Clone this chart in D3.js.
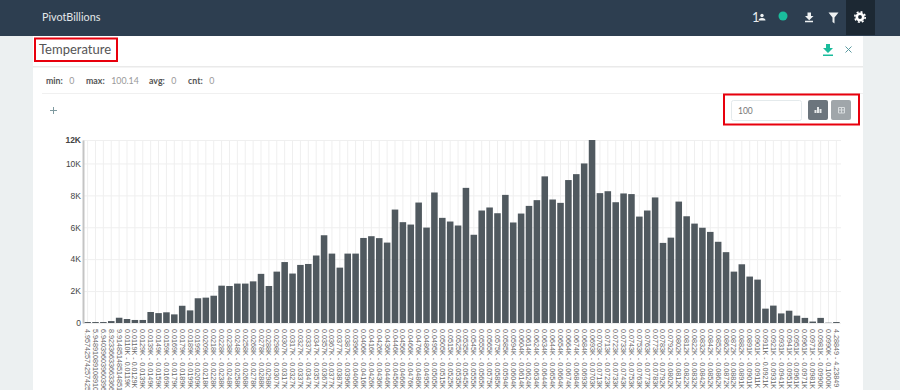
<!DOCTYPE html>
<html>
<head>
<meta charset="utf-8">
<title>Temperature</title>
<script src="https://cdn.jsdelivr.net/npm/d3@7"></script>
<style>
  html, body { margin: 0; padding: 0; background: #ecf0f1; overflow: hidden; }
  svg { display: block; font-family: Lato, sans-serif; }
  .y-axis text { font-family: "Liberation Sans", sans-serif; font-size: 8.5px; fill: #444; }
  .x-axis text { font-family: "Liberation Sans", sans-serif; font-size: 7.2px; fill: #666; }
  .grid line { stroke: #efefef; stroke-width: 1; }
</style>
</head>
<body>
<svg id="chart" width="900" height="390"></svg>
<script>
const rawLabels = [
  "4.95742574257425 - 5.94891089108910",
  "5.94891089108910 - 6.94039603960396",
  "6.94039603960396 - 7.93188118811881",
  "8.92336633663366 - 9.91485148514851",
  "9.91485148514851 - 0.0110K"
];
const binStarts = [
  "0.0110", "0.0119", "0.0129", "0.0139", "0.0149", "0.0159", "0.0169", "0.0179", "0.0189", "0.0199",
  "0.0209", "0.0218", "0.0228", "0.0238", "0.0248", "0.0258", "0.0268", "0.0278", "0.0288", "0.0298",
  "0.0307", "0.0317", "0.0327", "0.0337", "0.0347", "0.0357", "0.0367", "0.0377", "0.0387", "0.0396",
  "0.0406", "0.0416", "0.0426", "0.0436", "0.0446", "0.0456", "0.0466", "0.0476", "0.0486", "0.0495",
  "0.0505", "0.0515", "0.0525", "0.0535", "0.0545", "0.0555", "0.0565", "0.0575", "0.0585", "0.0594",
  "0.0604", "0.0614", "0.0624", "0.0634", "0.0644", "0.0654", "0.0664", "0.0674", "0.0684", "0.0693",
  "0.0703", "0.0713", "0.0723", "0.0733", "0.0743", "0.0753", "0.0763", "0.0773", "0.0783", "0.0792",
  "0.0802", "0.0812", "0.0822", "0.0832", "0.0842", "0.0852", "0.0862", "0.0872", "0.0882", "0.0891",
  "0.0901", "0.0911", "0.0921", "0.0931", "0.0941", "0.0951", "0.0961", "0.0971", "0.0981", "0.0990",
  "0.1000"
];
const lastLabel = "4.28849 - 4.23849";

const counts = [
  60, 60, 60, 120, 330, 250, 190, 190, 690, 620, 670, 540, 1080, 790, 1550, 1590,
  1710, 2340, 2320, 2470, 2470, 2610, 3080, 2320, 3220, 3820, 3100, 3640, 3700, 4230, 5500, 4350,
  3470, 4350, 4350, 5330, 5440, 5320, 5040, 7110, 6320, 6170, 7550, 5980, 8180, 6590, 6360, 6110,
  8470, 5530, 7050, 7240, 6880, 8030, 6300, 6860, 7340, 7700, 9190, 7740, 7530, 8960, 9330, 10000,
  11470, 8140, 8260, 7570, 8120, 8080, 6670, 7050, 7870, 5020, 5350, 7610, 6690, 6230, 5970, 5710,
  5090, 4440, 3220, 3680, 2910, 2720, 900, 1090, 600, 770, 460, 320, 90, 320, 20, 60
];
// the top tick sits on the tallest bar and the chart rounds its label up to 12K
const yMax = 11470;
const yTicks = [0, 2000, 4000, 6000, 8000, 10000, yMax];
const yTickLabels = ["0", "2K", "4K", "6K", "8K", "10K", "12K"];
const stats = [["min", "0"], ["max", "100.14"], ["avg", "0"], ["cnt", "0"]];
const statX = [46, 86, 149, 188];

const binLabels = binStarts.slice(0, -1).map((d, i) => `${d}K - ${binStarts[i + 1]}K`);
const categories = [...rawLabels, ...binLabels, lastLabel];
const slots = d3.range(counts.length);

const svg = d3.select("#chart");
const page = svg.append("g");

// navbar
page.append("rect").attr("width", 900).attr("height", 36).attr("fill", "#2d3e50");
page.append("rect").attr("x", 846).attr("width", 29).attr("height", 35).attr("fill", "#1c2833");
page.append("text").attr("x", 42).attr("y", 21).attr("font-size", 10.8).attr("fill", "#e4e8ea").text("PivotBillions");
page.append("text").attr("x", 752).attr("y", 21.5).attr("font-size", 13).attr("fill", "#e8ecee").text("1");

const navIcons = page.append("g").attr("fill", "#eef1f2");
navIcons.append("circle").attr("cx", 762).attr("cy", 15.5).attr("r", 1.7);
navIcons.append("path").attr("d", "M758.500 20.500q0-2.500 3.500-2.500t3.500 2.500z");
page.append("circle").attr("cx", 783).attr("cy", 16).attr("r", 4.5).attr("fill", "#1abc9c");
navIcons.append("path").attr("d", "M807.500 12.500h3.500v3.500h2.500l-4.300 4.300-4.200-4.300h2.500z M805 20.800h8v1.500h-8z");
navIcons.append("path").attr("d", "M828.500 12.500h10l-4 5v6l-2-1.500v-4.500z");
navIcons.append("circle").attr("cx", 860).attr("cy", 17).attr("r", 3.2).attr("fill", "none").attr("stroke", "#fff").attr("stroke-width", 2.6);
navIcons.append("circle").attr("cx", 860).attr("cy", 17).attr("r", 5.2).attr("fill", "none").attr("stroke", "#fff").attr("stroke-width", 1.6).attr("stroke-dasharray", "2 2.080");

// panel
page.append("rect").attr("x", 33).attr("y", 36).attr("width", 830).attr("height", 354).attr("fill", "#fff");
page.append("rect").attr("x", 33).attr("y", 66).attr("width", 830).attr("height", 1.500).attr("fill", "#eaeaea");
page.append("rect").attr("x", 42).attr("y", 93).attr("width", 821).attr("height", 1).attr("fill", "#f0f0f0");

page.append("text").attr("x", 39).attr("y", 54).attr("font-size", 13).attr("fill", "#555").text("Temperature");
page.append("rect").attr("x", 35).attr("y", 38.500).attr("width", 82).attr("height", 22.500)
  .attr("fill", "none").attr("stroke", "#e8000d").attr("stroke-width", 2);

page.append("path").attr("fill", "#1abc9c").attr("d", "M826 44h4v4h3l-5 5-5-5h3z M823 54.500h10v1.500h-10z");
page.append("path").attr("stroke", "#5b9aa0").attr("stroke-width", 1).attr("fill", "none").attr("d", "M845.500 46.500l6 6m0-6l-6 6");

stats.forEach(([name, val], i) => {
  const t = page.append("text").attr("x", statX[i]).attr("y", 84).attr("font-size", 8.800).attr("fill", "#666");
  t.append("tspan").attr("font-weight", 700).attr("fill", "#555").text(`${name}:`);
  t.append("tspan").attr("dx", 6.500).attr("fill", "#999").text(val);
});
page.append("path").attr("stroke", "#7f9aa0").attr("stroke-width", 1).attr("d", "M50 110.500h7M53.500 107v7");

// size box and chart/table buttons
page.append("rect").attr("x", 724).attr("y", 94.500).attr("width", 135).attr("height", 30)
  .attr("fill", "none").attr("stroke", "#e8000d").attr("stroke-width", 2);
page.append("rect").attr("x", 731.500).attr("y", 100.500).attr("width", 70).attr("height", 20).attr("rx", 2)
  .attr("fill", "#fff").attr("stroke", "#e4eaec");
page.append("text").attr("x", 738).attr("y", 113.500).attr("font-size", 8.500).attr("fill", "#777").text("100");
page.append("rect").attr("x", 808).attr("y", 100).attr("width", 20).attr("height", 20).attr("rx", 2).attr("fill", "#6c757d");
page.append("rect").attr("x", 831).attr("y", 100).attr("width", 20).attr("height", 20).attr("rx", 2).attr("fill", "#a0a6aa");
page.append("path").attr("fill", "#e6e9ea").attr("d", "M814.500 113v-3h2v3z M817 113v-6h2v6z M819.500 113v-4h2v4z");
page.append("path").attr("fill", "none").attr("stroke", "#d8dcde").attr("d", "M838.500 107.500h6v5.500h-6z M838.500 110h6 M841.500 107.500v5.500");

// chart
const margin = { top: 140, left: 83 };
const chartWidth = 758;
const chartHeight = 183;
const chart = svg.append("g").attr("transform", `translate(${margin.left},${margin.top})`);

const x = d3.scaleBand().domain(slots).range([0, chartWidth]).padding(0.17);
const y = d3.scaleLinear().domain([0, yMax]).range([chartHeight, 0]);

chart.append("g")
  .attr("class", "grid")
  .call(d3.axisLeft(y).tickValues(yTicks).tickSize(-chartWidth).tickFormat(""))
  .call((g) => g.select(".domain").remove());

const xAxisG = chart.append("g")
  .attr("class", "x-axis grid")
  .attr("transform", `translate(0,${chartHeight})`)
  .call(d3.axisBottom(x).tickSize(-chartHeight).tickFormat((i) => categories[i]));
xAxisG.select(".domain").remove();
xAxisG.selectAll(".tick text")
  .attr("transform", "rotate(90)")
  .attr("text-anchor", "start")
  .attr("dominant-baseline", "central")
  .attr("x", 6)
  .attr("y", 0)
  .attr("dy", 0);

chart.append("g")
  .selectAll("rect")
  .data(counts)
  .join("rect")
  .attr("x", (d, i) => x(i))
  .attr("y", (d) => y(d))
  .attr("width", x.bandwidth())
  .attr("height", (d) => y(0) - y(d))
  .attr("fill", "#50595f");

const yAxisG = chart.append("g")
  .attr("class", "y-axis")
  .call(d3.axisLeft(y).tickValues(yTicks).tickSize(0).tickPadding(2)
    .tickFormat((d, i) => yTickLabels[i]));
yAxisG.select(".domain").attr("stroke", "#c4c4c4").attr("stroke-width", 2);
yAxisG.selectAll(".tick text").attr("font-weight", (d) => (d === yMax ? 700 : 400));
</script>
</body>
</html>
